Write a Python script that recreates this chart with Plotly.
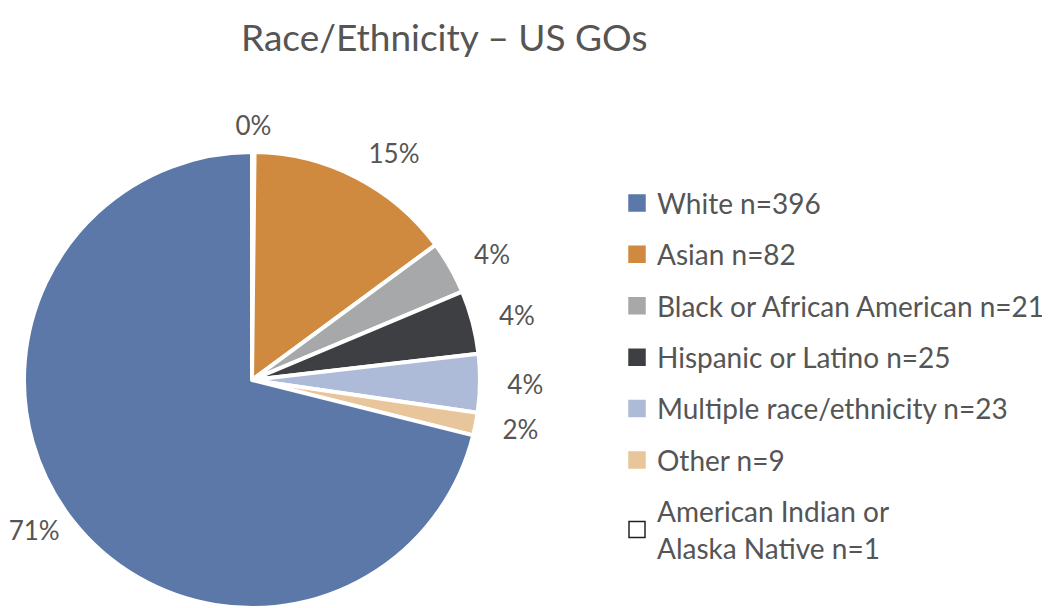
import math
import plotly.graph_objects as go

# slices, clockwise from 12 o'clock
slice_labels = ["American Indian or Alaska Native", "Asian", "Black or African American",
                "Hispanic or Latino", "Multiple race/ethnicity", "Other", "White"]
slice_counts = [1, 82, 21, 25, 23, 9, 396]
slice_colors = ["#ffffff", "#cf8a40", "#a7a8aa", "#3e3f43", "#adbad8", "#e9c59b", "#5b78a8"]

# legend order and text
legend_names = ["White n=396", "Asian n=82", "Black or African American n=21",
                "Hispanic or Latino n=25", "Multiple race/ethnicity n=23", "Other n=9",
                "American Indian or<br>Alaska Native n=1"]
legend_colors = ["#5b78a8", "#cf8a40", "#a7a8aa", "#3e3f43", "#adbad8", "#e9c59b", "#ffffff"]

text_color = "#555555"
font_family = "Lato, Open Sans, sans-serif"

W, H = 1050, 608
# pie placement in figure pixels (page has an 8px body margin)
cx, cy, rad = 244, 372, 228

fig = go.Figure()

fig.add_trace(go.Pie(
    labels=slice_labels, values=slice_counts, sort=False, direction="clockwise", rotation=0,
    marker=dict(colors=slice_colors, line=dict(color="white", width=4)),
    textinfo="none", showlegend=False, hoverinfo="label+value+percent",
    domain=dict(x=[(cx - rad) / W, (cx + rad) / W], y=[(H - cy - rad) / H, (H - cy + rad) / H]),
))

# percent labels: placed at each slice's mid-angle, a bit outside the pie
total = sum(slice_counts)
lab_x, lab_y, lab_pos, lab_txt = [], [], [], []
start = 0.0
for c in slice_counts:
    a = math.radians(360.0 * (start + c / 2) / total)
    start += c
    sx, sy = math.sin(a), math.cos(a)
    if sx > 0.05:
        r, pos = 1.12, "middle right"
    elif sx < -0.05:
        r, pos = 1.07, "middle left"   # keep the left label inside the page
    else:
        r, pos = 1.12, "middle center"
    lab_x.append(r * sx)
    lab_y.append(r * sy - 0.015)
    lab_pos.append(pos)
    lab_txt.append("%d%%" % round(100.0 * c / total))

fig.add_trace(go.Scatter(
    x=lab_x, y=lab_y, mode="text", text=lab_txt, textposition=lab_pos,
    textfont=dict(size=26, color=text_color, family=font_family),
    cliponaxis=False, hoverinfo="skip", showlegend=False,
))

# legend entries
for i, (name, col) in enumerate(zip(legend_names, legend_colors)):
    fig.add_trace(go.Scatter(
        x=[None], y=[None], mode="markers", name=name, legendgroup=str(i),
        marker=dict(symbol="square", size=16, color=col,
                    line=dict(color="#222222" if col == "#ffffff" else col, width=1.5)),
    ))

fig.update_layout(
    width=W, height=H,
    margin=dict(l=0, r=0, t=0, b=0),
    paper_bgcolor="white", plot_bgcolor="rgba(0,0,0,0)",
    font=dict(family=font_family, color=text_color, size=28),
    title=dict(text="Race/Ethnicity – US GOs", x=0.4155, xanchor="center", y=0.972, yanchor="top",
               font=dict(size=37, color=text_color)),
    # unit = pie radius, origin = pie centre
    xaxis=dict(visible=False, domain=[0, 1], range=[-cx / rad, (W - cx) / rad], fixedrange=True),
    yaxis=dict(visible=False, domain=[0, 1], range=[(cy - H) / rad, cy / rad], fixedrange=True),
    legend=dict(x=0.58, y=0.72, xanchor="left", yanchor="top", tracegroupgap=12,
                font=dict(size=28, color=text_color), itemsizing="trace"),
)

fig.write_html("out.html")
